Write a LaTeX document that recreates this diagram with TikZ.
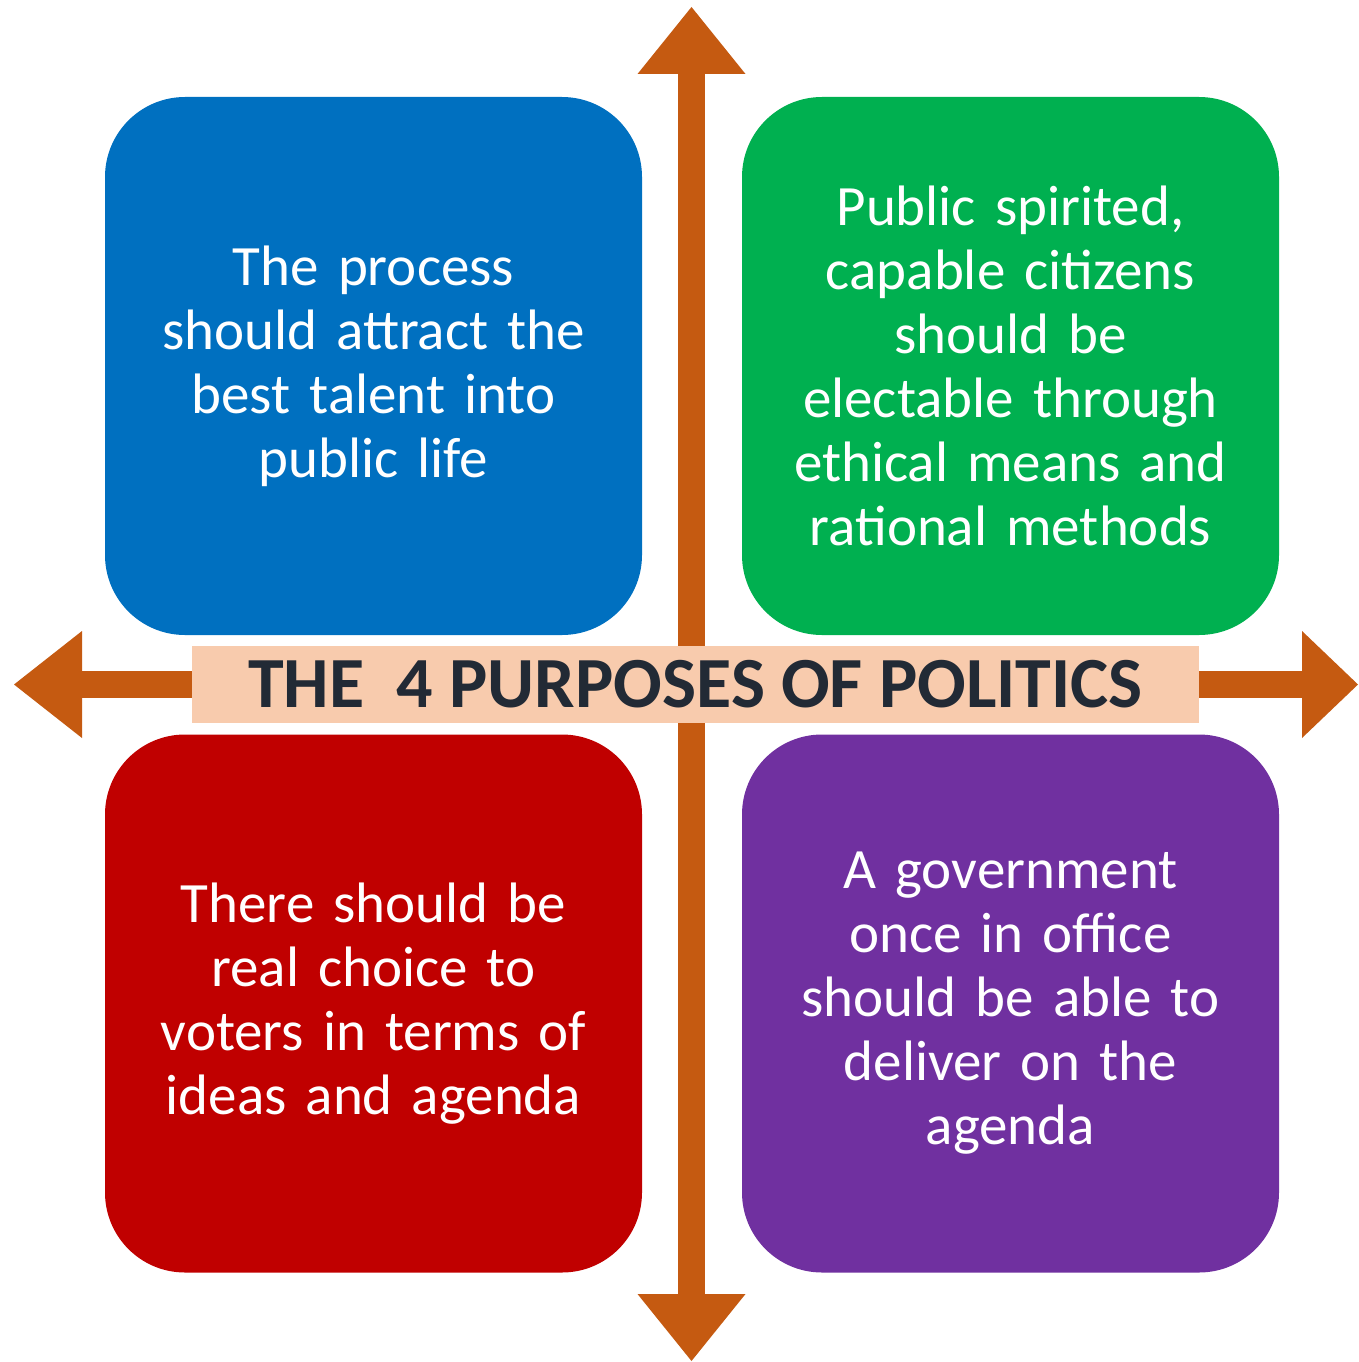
\documentclass[tikz,border=0pt]{standalone}
\usepackage{fontspec}
\setmainfont{Carlito}
\usepackage{tikz}
\usetikzlibrary{arrows.meta}

\definecolor{processblue}{HTML}{0070C0}
\definecolor{citizengreen}{HTML}{00B050}
\definecolor{choicered}{HTML}{C00000}
\definecolor{deliverpurple}{HTML}{7030A0}
\definecolor{crossorange}{HTML}{C55A11}
\definecolor{bannerpeach}{HTML}{F8CBAD}
\definecolor{titleink}{HTML}{222A35}

\tikzset{
  purpose/.style={rounded corners=80pt, minimum width=537pt, minimum height=538pt,
    text width=500pt, align=center, inner sep=0pt, text=white,
    font=\fontsize{57}{64}\selectfont},
  crossarrow/.style={line width=27pt, color=crossorange}
}

\begin{document}
\begin{tikzpicture}[x=1pt, y=-1pt]
\useasboundingbox (0,0) rectangle (1358,1362);

%draw the cross of arrows
\coordinate (vtop) at (691.5,7);
\coordinate (vbottom) at (691.5,1361);
\coordinate (hleft) at (14,684.5);
\coordinate (hright) at (1358,684.5);
\draw[crossarrow, {Triangle[length=67pt, width=108pt, line width=0pt]}-{Triangle[length=67pt, width=108pt, line width=0pt]}] (vbottom) -- (vtop);
\draw[crossarrow, {Triangle[length=68pt, width=107pt, line width=0pt]}-{Triangle[length=56pt, width=107pt, line width=0pt]}] (hleft) -- (hright);

%draw the four purposes
\node[purpose, fill=processblue] (process) at (373.5,366)
  {The process\\ should attract the\\ best talent into\\ public life};
\node[purpose, fill=citizengreen] (citizens) at (1010.5,366)
  {Public spirited,\\ capable citizens\\ should be\\ electable through\\ ethical means and\\ rational methods};
\node[purpose, fill=choicered] (choice) at (373.5,1003.5)
  {There should be\\ real choice to\\ voters in terms of\\ ideas and agenda};
\node[purpose, fill=deliverpurple] (deliver) at (1010.5,1003.5)
  {A government\\ once in office\\ should be able to\\ deliver on the\\ agenda};

%draw the title banner
\node[fill=bannerpeach, minimum width=1007pt, minimum height=77pt, inner sep=0pt,
  text=titleink, font=\fontsize{72}{80}\selectfont\bfseries] (title) at (695.5,684.5)
  {THE\ \ 4 PURPOSES OF POLITICS};
\end{tikzpicture}
\end{document}
